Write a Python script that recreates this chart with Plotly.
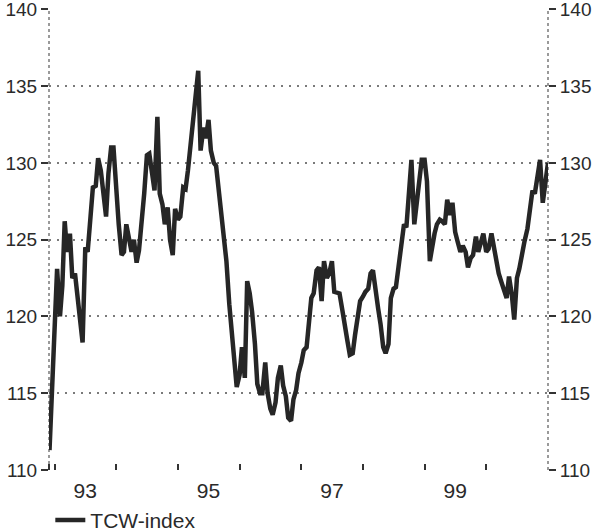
import pandas as pd
import plotly.graph_objects as go

# Semi-monthly observation dates (Dec 1992 - Jan 2001)
dates = pd.date_range("1992-12-01", "2001-01-01", freq="SMS")

# TCW-index values
tcw_index = [
    111.3, 115.0,
    117.8, 123.1, 120.0, 122.0, 126.2, 124.2, 125.4, 122.5, 122.8, 121.5, 119.8, 118.3,
    124.5, 124.2, 126.5, 128.4, 128.5, 130.3, 129.5, 127.8, 126.5, 129.3, 131.0, 131.0,
    127.8, 126.0, 124.0, 124.2, 126.0, 125.0, 124.2, 125.0, 123.5, 124.3, 126.2, 128.0,
    130.5, 130.6, 129.3, 128.2, 133.0, 128.0, 127.3, 126.0, 127.1, 125.0, 124.0, 127.0,
    126.3, 126.5, 128.4, 128.3, 129.5, 131.0, 132.8, 134.8, 136.0, 130.8, 132.3, 131.6,
    132.8, 130.8, 130.0, 129.8, 128.0, 126.3, 125.0, 123.6, 120.8, 119.3, 117.0, 115.4,
    116.2, 118.0, 116.0, 122.3, 121.5, 120.3, 118.2, 115.6, 115.0, 115.0, 117.0, 115.0,
    114.0, 113.6, 114.4, 116.0, 116.8, 115.5, 114.8, 113.4, 113.2, 114.6, 115.2, 116.3,
    117.0, 117.8, 118.0, 119.8, 121.2, 121.5, 123.0, 123.2, 121.0, 123.6, 122.5, 122.8,
    123.6, 121.6, 121.5, 121.5, 120.4, 119.3, 118.4, 117.5, 117.6, 118.8, 120.0, 121.0,
    121.3, 121.6, 121.8, 122.8, 123.0, 121.6, 120.5, 119.5, 118.0, 117.6, 118.2, 121.2,
    121.8, 121.9, 123.2, 124.3, 126.0, 125.8, 128.5, 130.2, 126.0, 127.5, 128.5, 130.2,
    130.2, 128.8, 123.6, 124.7, 125.4, 126.0, 126.3, 126.2, 126.0, 127.6, 126.6, 127.4,
    125.5, 124.9, 124.2, 124.6, 124.2, 123.2, 123.8, 124.0, 125.2, 124.2, 124.8, 125.4,
    124.2, 124.4, 125.4, 124.4, 123.7, 122.8, 122.2, 121.6, 121.2, 122.6, 121.4, 119.8,
    122.5, 123.1, 124.3, 124.9, 125.7, 127.2, 128.2, 128.0, 129.1, 130.2, 127.4, 128.4,
    130.0,
]

# Axis labels
year_label_dates = ["1993-07-01", "1995-07-01", "1997-07-01", "1999-07-01"]
year_labels = ["93", "95", "97", "99"]
year_tick_dates = ["1992-11-28", "1993-01-01", "1994-01-01", "1995-01-01", "1996-01-01",
                   "1997-01-01", "1998-01-01", "1999-01-01", "2000-01-01"]
y_ticks = [110, 115, 120, 125, 130, 135, 140]

LINE = "#262626"
GRID = "#7a7a7a"
FONT = dict(family="Liberation Sans, Arial, sans-serif", size=19, color="#2a2a2a")

fig = go.Figure()
fig.add_trace(go.Scatter(
    x=dates, y=tcw_index, mode="lines", name="TCW-index",
    line=dict(color=LINE, width=4.5), yaxis="y",
))
fig.add_trace(go.Scatter(
    x=dates, y=tcw_index, mode="lines", showlegend=False, hoverinfo="skip",
    line=dict(color=LINE, width=0), opacity=0, yaxis="y2",
))

fig.update_layout(
    width=599, height=532,
    margin=dict(l=49, r=51, t=9, b=62, autoexpand=False),
    paper_bgcolor="white", plot_bgcolor="white",
    font=FONT,
    showlegend=True,
    legend=dict(orientation="h", xref="container", x=0.084, xanchor="left",
                yref="container", y=0.022, yanchor="middle",
                font=dict(size=21), bgcolor="rgba(0,0,0,0)"),
    xaxis=dict(
        range=["1992-11-28", "2001-01-01"], automargin=False,
        tickmode="array", tickvals=year_label_dates, ticktext=year_labels,
        ticks="", showgrid=False, zeroline=False, showline=False,
        ticklabelstandoff=6, tickfont=dict(size=21), ticklabeloverflow="allow",
        minor=dict(tickmode="array", tickvals=year_tick_dates, ticks="inside",
                   ticklen=6, tickwidth=2, tickcolor="#333", showgrid=False),
    ),
    yaxis=dict(
        range=[110, 140.02], tickmode="array", tickvals=y_ticks, automargin=False,
        ticks="outside", ticklen=7, tickwidth=2, tickcolor="#333",
        showgrid=True, gridcolor=GRID, griddash="2px,6px", gridwidth=1.5,
        zeroline=False, showline=False, ticklabeloverflow="allow",
    ),
    yaxis2=dict(
        range=[110, 140.02], tickmode="array", tickvals=y_ticks, automargin=False,
        overlaying="y", side="right", matches="y",
        ticks="outside", ticklen=7, tickwidth=2, tickcolor="#333",
        showgrid=False, zeroline=False, showline=False, ticklabeloverflow="allow",
    ),
    shapes=[
        dict(type="line", xref="paper", yref="paper", x0=0, x1=0, y0=0, y1=1,
             line=dict(color=GRID, width=1.5, dash="dot"), layer="below"),
        dict(type="line", xref="paper", yref="paper", x0=1, x1=1, y0=0, y1=1,
             line=dict(color=GRID, width=1.5, dash="dot"), layer="below"),
    ],
)

fig.write_html(
    "out.html",
    config={"displayModeBar": False},
    post_script="document.body.style.margin='0';document.body.style.padding='0';",
)
